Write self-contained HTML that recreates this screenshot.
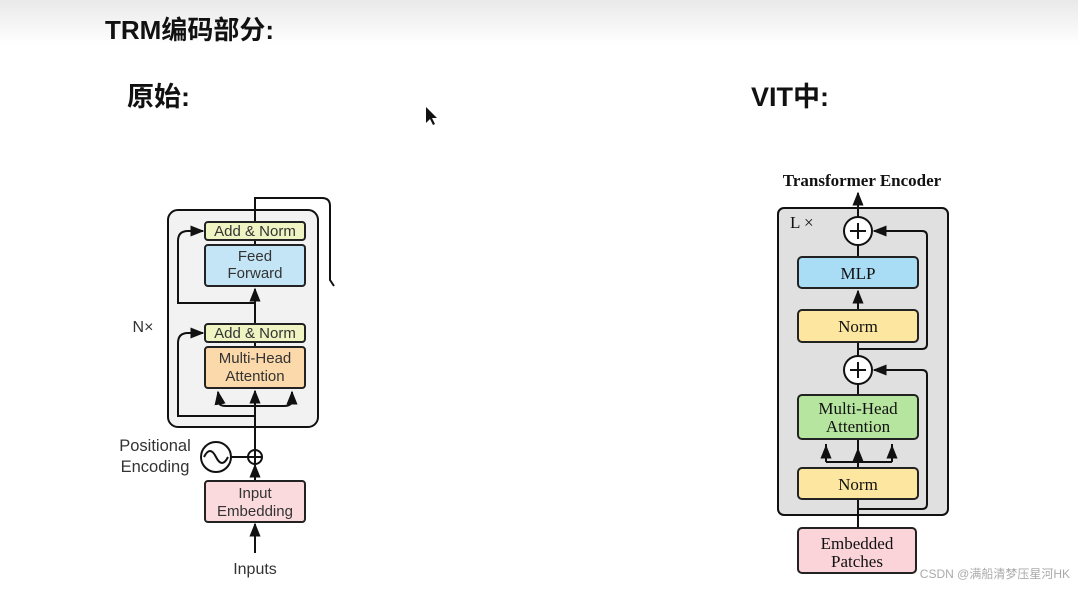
<!DOCTYPE html>
<html><head><meta charset="utf-8"><style>
html,body{margin:0;padding:0;width:1078px;height:609px;overflow:hidden;background:#fff}
svg{display:block}
.cj{font-family:"Liberation Sans","Noto Sans CJK SC",sans-serif;font-weight:bold;fill:#111}
.s{font-family:"Liberation Sans",sans-serif;font-size:15px;fill:#333}
.r{font-family:"Liberation Serif",serif;font-size:17px;fill:#111}
</style></head><body>
<svg width="1078" height="609" viewBox="0 0 1078 609" xmlns="http://www.w3.org/2000/svg">
<defs>
<linearGradient id="g" x1="0" y1="0" x2="0" y2="1"><stop offset="0" stop-color="#e9e9e9"/><stop offset="1" stop-color="#fff"/></linearGradient>
<marker id="a" viewBox="0 0 10 10" refX="9" refY="5" markerWidth="7" markerHeight="7" orient="auto-start-reverse"><path d="M0,1 L10,5 L0,9 z" fill="#111"/></marker>
</defs>
<rect width="1078" height="45" fill="url(#g)"/>
<text x="105" y="39" class="cj" font-size="26">TRM编码部分:</text>
<text x="127" y="106" class="cj" font-size="27">原始:</text>
<text x="751" y="106" class="cj" font-size="27">VIT中:</text>
<path d="M426,107 l0,16 l4,-4 l3,6 l2,-1 l-3,-6 l5,0 z" fill="#111"/>

<!-- Left diagram -->
<g stroke="#111" stroke-width="2" fill="none">
<rect x="168" y="210" width="150" height="217" rx="10" fill="#f2f2f3"/>
<path d="M255,553 L255,524" marker-end="url(#a)"/>
<path d="M255,481 L255,465" marker-end="url(#a)"/>
<path d="M255,450 L255,391" marker-end="url(#a)"/>
<path d="M255,347 L255,342"/>
<path d="M255,324 L255,289" marker-end="url(#a)"/>
<path d="M255,245 L255,240"/>
<path d="M255,222 L255,198 L322,198 Q330,198 330,206 L330,280 L334,286"/>
<path d="M255,416 L178,416 L178,343 Q178,333 188,333 L203,333" marker-end="url(#a)"/>
<path d="M255,303 L178,303 L178,241 Q178,231 188,231 L203,231" marker-end="url(#a)"/>
<path d="M218,400 Q218,406 226,406 L284,406 Q292,406 292,400 L292,392" marker-end="url(#a)"/>
<path d="M220,404 L218,392" marker-end="url(#a)"/>
<circle cx="216" cy="457" r="15" fill="#fff"/>
<path d="M204,457 Q210,445 216,457 Q222,469 228,457"/>
<path d="M231,457 L248,457"/>
<circle cx="255" cy="457" r="7" fill="#fff"/>
<path d="M248,457 L262,457 M255,450 L255,464"/>
</g>
<g stroke="#222" stroke-width="2">
<rect x="205" y="222" width="100" height="18" rx="3" fill="#eff4c2"/>
<rect x="205" y="245" width="100" height="41" rx="3" fill="#c4e5f6"/>
<rect x="205" y="324" width="100" height="18" rx="3" fill="#eff4c2"/>
<rect x="205" y="347" width="100" height="41" rx="3" fill="#fbd9aa"/>
<rect x="205" y="481" width="100" height="41" rx="3" fill="#fadadd"/>
</g>
<g class="s" text-anchor="middle">
<text x="255" y="236">Add &amp; Norm</text>
<text x="255" y="261">Feed</text><text x="255" y="278">Forward</text>
<text x="255" y="338">Add &amp; Norm</text>
<text x="255" y="363">Multi-Head</text><text x="255" y="381">Attention</text>
<text x="255" y="498">Input</text><text x="255" y="516">Embedding</text>
<text x="255" y="574" font-size="16">Inputs</text>
<text x="155" y="451" font-size="16.5">Positional</text>
<text x="155" y="472" font-size="16.5">Encoding</text>
<text x="143" y="332" font-size="16">N×</text>
</g>

<!-- Right diagram -->
<text x="862" y="186" class="r" font-weight="bold" font-size="19.5" text-anchor="middle">Transformer Encoder</text>
<g stroke="#111" stroke-width="2" fill="none">
<rect x="778" y="208" width="170" height="307" rx="6" fill="#e0e0e0"/>
<path d="M858,528 L858,499"/>
<path d="M858,468 L858,439"/>
<path d="M858,458 L858,449" marker-end="url(#a)"/>
<path d="M826,462 L826,444 M892,462 L892,444"/>
<path d="M826,462 L892,462"/>
<path d="M826,452 L826,446" marker-end="url(#a)"/>
<path d="M892,452 L892,446" marker-end="url(#a)"/>
<path d="M858,395 L858,384"/>
<path d="M858,356 L858,342"/>
<path d="M858,310 L858,291" marker-end="url(#a)"/>
<path d="M858,257 L858,245"/>
<path d="M858,217 L858,193" marker-end="url(#a)"/>
<path d="M858,509 L922,509 Q927,509 927,504 L927,375 Q927,370 922,370 L874,370" marker-end="url(#a)"/>
<path d="M858,349 L922,349 Q927,349 927,344 L927,236 Q927,231 922,231 L874,231" marker-end="url(#a)"/>
<circle cx="858" cy="231" r="14" fill="#fff"/>
<circle cx="858" cy="370" r="14" fill="#fff"/>
<path d="M850,231 L866,231 M858,223 L858,239 M850,370 L866,370 M858,362 L858,378"/>
</g>
<g stroke="#222" stroke-width="2">
<rect x="798" y="257" width="120" height="31" rx="4" fill="#a9dcf5"/>
<rect x="798" y="310" width="120" height="32" rx="4" fill="#fde7a0"/>
<rect x="798" y="395" width="120" height="44" rx="4" fill="#b6e5a0"/>
<rect x="798" y="468" width="120" height="31" rx="4" fill="#fde7a0"/>
<rect x="798" y="528" width="118" height="45" rx="4" fill="#fad4d8"/>
</g>
<g class="r" text-anchor="middle">
<text x="858" y="279">MLP</text>
<text x="858" y="332">Norm</text>
<text x="858" y="414">Multi-Head</text><text x="858" y="432">Attention</text>
<text x="858" y="490">Norm</text>
<text x="857" y="549">Embedded</text><text x="857" y="567">Patches</text>
</g>
<text x="790" y="228" class="r" font-size="16" text-anchor="start">L ×</text>
<text x="1070" y="578" font-family="Liberation Sans,'Noto Sans CJK SC',sans-serif" font-size="12" fill="#aaa" text-anchor="end">CSDN @满船清梦压星河HK</text>
</svg>
</body></html>
